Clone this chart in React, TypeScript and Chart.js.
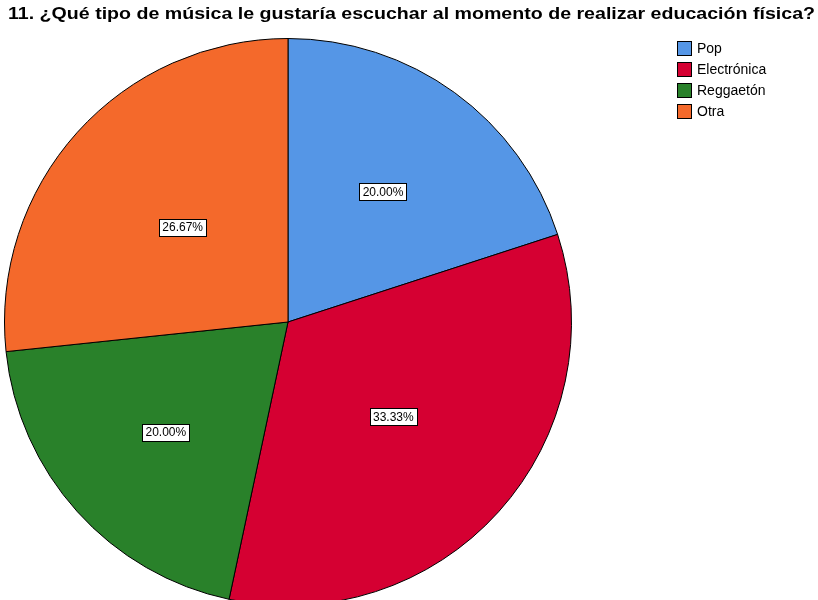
import React, { useEffect, useRef } from "react";
import { Chart, registerables } from "chart.js";

Chart.register(...registerables);

const titleText = "11. ¿Qué tipo de música le gustaría escuchar al momento de realizar educación física?";
const categories = ["Pop", "Electrónica", "Reggaetón", "Otra"];
const counts = [3, 5, 3, 4];
const colors = ["#5596E6", "#D50032", "#29812A", "#F4692B"];
const labelDist = [0.57, 0.5, 0.58, 0.5];

const overlayPlugin = {
  id: "overlay",
  afterDatasetsDraw(chart: any) {
    const ctx = chart.ctx as CanvasRenderingContext2D;
    const meta = chart.getDatasetMeta(0);
    const total = counts.reduce((a, b) => a + b, 0);
    ctx.save();
    ctx.font = '12px "Liberation Sans", Arial, sans-serif';
    ctx.textBaseline = "middle";
    ctx.textAlign = "center";
    meta.data.forEach((arc: any, i: number) => {
      const p = arc.getProps(["x", "y", "startAngle", "endAngle", "outerRadius"], true);
      const mid = (p.startAngle + p.endAngle) / 2;
      const r = p.outerRadius * labelDist[i];
      const x = p.x + Math.cos(mid) * r;
      const y = p.y + Math.sin(mid) * r;
      const txt = ((counts[i] / total) * 100).toFixed(2) + "%";
      const w = Math.round(ctx.measureText(txt).width + 6);
      const h = 17;
      const bx = Math.round(x - w / 2) + 0.5;
      const by = Math.round(y - h / 2) + 0.5;
      ctx.fillStyle = "#ffffff";
      ctx.fillRect(bx, by, w, h);
      ctx.strokeStyle = "#000000";
      ctx.lineWidth = 1;
      ctx.strokeRect(bx, by, w, h);
      ctx.fillStyle = "#000000";
      ctx.fillText(txt, x, y + 1);
    });
    ctx.restore();
  },
  afterDraw(chart: any) {
    const ctx = chart.ctx as CanvasRenderingContext2D;
    ctx.save();
    ctx.font = 'bold 17px "Liberation Sans", Arial, sans-serif';
    ctx.textBaseline = "middle";
    ctx.textAlign = "left";
    ctx.fillStyle = "#000000";
    const tw = ctx.measureText(titleText).width;
    const target = 807;
    ctx.translate(8, 14);
    ctx.scale(target / tw, 1);
    ctx.fillText(titleText, 0, 0);
    ctx.restore();
    ctx.save();
    ctx.font = '14px "Liberation Sans", Arial, sans-serif';
    ctx.textBaseline = "middle";
    ctx.textAlign = "left";
    categories.forEach((c, i) => {
      const y = 48 + i * 21;
      ctx.fillStyle = colors[i];
      ctx.fillRect(677.5, y - 6.5, 14, 14);
      ctx.strokeStyle = "#000000";
      ctx.lineWidth = 1;
      ctx.strokeRect(677.5, y - 6.5, 14, 14);
      ctx.fillStyle = "#000000";
      ctx.fillText(c, 697, y + 1);
    });
    ctx.restore();
  },
};

export default function App() {
  const ref = useRef<HTMLCanvasElement>(null);
  useEffect(() => {
    if (!ref.current) return;
    const chart = new Chart(ref.current, {
      type: "pie",
      data: {
        labels: categories,
        datasets: [
          {
            data: counts,
            backgroundColor: colors,
            borderColor: "#000000",
            borderWidth: 1,
          },
        ],
      },
      options: {
        responsive: false,
        animation: false,
        layout: { padding: { left: 4, top: 38, right: 246, bottom: 14 } },
        plugins: {
          legend: { display: false },
          title: { display: false },
          tooltip: { enabled: false },
        },
      },
      plugins: [overlayPlugin],
    });
    return () => chart.destroy();
  }, []);
  return (
    <div
      style={{
        position: "fixed",
        left: 0,
        top: 0,
        width: 818,
        height: 600,
        overflow: "hidden",
        background: "#ffffff",
      }}
    >
      <canvas ref={ref} width={818} height={620} style={{ position: "absolute", left: 0, top: 0 }} />
    </div>
  );
}
